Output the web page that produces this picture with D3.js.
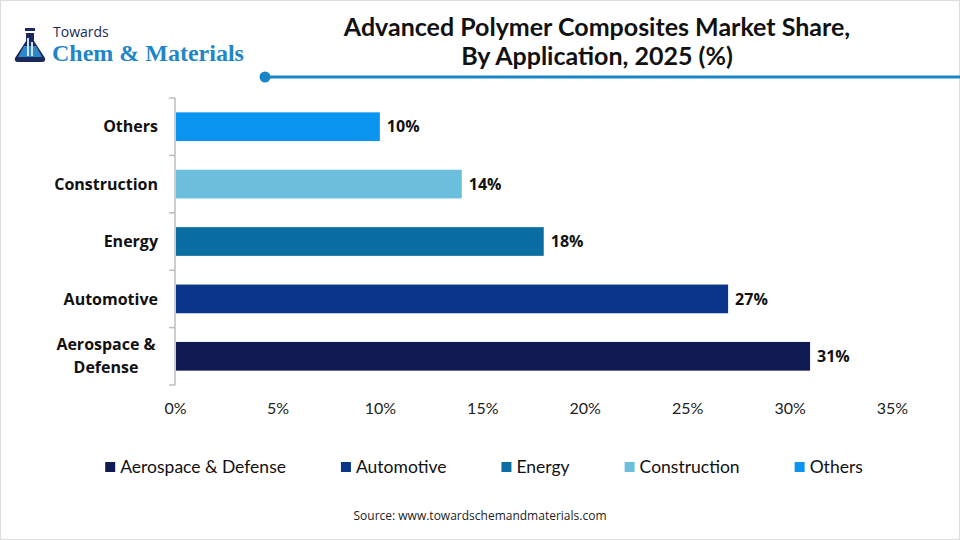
<!DOCTYPE html>
<html>
<head>
  <meta charset="utf-8">
  <title>Advanced Polymer Composites Market Share</title>
  <script src="https://cdn.jsdelivr.net/npm/d3@7"></script>
  <style>
    body { margin: 0; background: #fff; }
    svg { display: block; }
    .title { font-family: Lato, "Open Sans", sans-serif; font-weight: 700; font-size: 25px; fill: #111; }
    .cat { font-family: "Open Sans", sans-serif; font-weight: 700; font-size: 16px; fill: #111; }
    .val { font-family: "Open Sans", sans-serif; font-weight: 700; font-size: 16px; fill: #111; }
    .tick text { font-family: Lato, sans-serif; font-size: 16px; fill: #222; }
    .legend text { font-family: Lato, sans-serif; font-size: 17.5px; fill: #111; }
    .source { font-family: "Open Sans", sans-serif; font-size: 12px; fill: #222; }
  </style>
</head>
<body>
<svg></svg>
<script>
// data
var categories = ["Aerospace & Defense", "Automotive", "Energy", "Construction", "Others"];
var axisLabels = [["Aerospace &", "Defense"], ["Automotive"], ["Energy"], ["Construction"], ["Others"]];
var shares = [31, 27, 18, 14, 10];
var colors = ["#111a52", "#0a358a", "#0a6ea3", "#6bbfdc", "#0a96f0"];
var xTicks = [0, 5, 10, 15, 20, 25, 30, 35];

var W = 960, H = 540;
var margin = { top: 98, left: 175, right: 68, bottom: 155 };

var svg = d3.select("svg").attr("width", W).attr("height", H);

// light frame
svg.append("rect")
  .attr("x", 0.5).attr("y", 0.5)
  .attr("width", W - 1).attr("height", H - 1)
  .attr("fill", "#fff").attr("stroke", "#ddd");

// logo
var logo = svg.append("g").attr("transform", "translate(15,26)");
logo.append("rect").attr("x", 10).attr("y", 2).attr("width", 10).attr("height", 3).attr("fill", "#1b2a5a");
logo.append("path")
  .attr("d", "M11,7 L19,7 L19,15 L30,32 Q31,36 27,36 L3,36 Q-1,36 0,32 L11,15 Z")
  .attr("fill", "#1b2a5a");
logo.append("path")
  .attr("d", "M9,20 L21,20 L27,31 L3,31 Z")
  .attr("fill", "#2f86c8");
logo.append("rect").attr("x", 12).attr("y", 12).attr("width", 2).attr("height", 18).attr("fill", "#cde6f6");
logo.append("rect").attr("x", 16).attr("y", 16).attr("width", 2).attr("height", 14).attr("fill", "#cde6f6");
logo.append("text")
  .attr("x", 38).attr("y", 11)
  .style("font-family", "'Open Sans', sans-serif").style("font-size", "14px")
  .attr("fill", "#1b2a5a")
  .text("Towards");
logo.append("text")
  .attr("x", 37).attr("y", 35)
  .style("font-family", "'Liberation Serif', serif").style("font-weight", "700").style("font-size", "24px")
  .attr("fill", "#1f86c8")
  .text("Chem & Materials");

// title
var title = svg.append("text").attr("class", "title").attr("text-anchor", "middle");
title.append("tspan").attr("x", 597).attr("y", 36).text("Advanced Polymer Composites Market Share,");
title.append("tspan").attr("x", 597).attr("y", 65).text("By Application, 2025 (%)");

// title rule
svg.append("line")
  .attr("x1", 265).attr("x2", W).attr("y1", 77).attr("y2", 77)
  .attr("stroke", "#1a86c8").attr("stroke-width", 3);
svg.append("circle").attr("cx", 265).attr("cy", 77).attr("r", 5.5).attr("fill", "#1a86c8");

// scales
var x = d3.scaleLinear()
  .domain([0, 35])
  .range([margin.left, W - margin.right]);

var y0 = margin.top, y1 = H - margin.bottom;
var y = d3.scaleBand()
  .domain(categories)
  .range([y1, y0])
  .paddingInner(0.5)
  .paddingOuter(0.25);

// y axis line with dividers
var yAxisG = svg.append("g");
yAxisG.append("line")
  .attr("x1", margin.left).attr("x2", margin.left)
  .attr("y1", y0).attr("y2", y1)
  .attr("stroke", "#bdbdbd").attr("stroke-width", 1.5);
d3.range(categories.length + 1).forEach(function (i) {
  var yy = y0 + i * (y1 - y0) / categories.length;
  yAxisG.append("line")
    .attr("x1", margin.left - 6).attr("x2", margin.left)
    .attr("y1", yy).attr("y2", yy)
    .attr("stroke", "#bdbdbd").attr("stroke-width", 1.5);
});

// category labels
categories.forEach(function (c, i) {
  var lines = axisLabels[i];
  var cy = y(c) + y.bandwidth() / 2;
  var multi = lines.length > 1;
  var t = svg.append("text").attr("class", "cat")
    .attr("text-anchor", multi ? "middle" : "end");
  var lh = 23;
  lines.forEach(function (l, j) {
    t.append("tspan")
      .attr("x", multi ? 106 : margin.left - 17)
      .attr("y", cy + (j - (lines.length - 1) / 2) * lh)
      .attr("dy", "0.35em")
      .text(l);
  });
});

// bars
svg.append("g").selectAll("rect")
  .data(categories)
  .join("rect")
  .attr("x", x(0) + 1)
  .attr("y", function (d) { return y(d); })
  .attr("width", function (d, i) { return x(shares[i]) - x(0) - 1; })
  .attr("height", y.bandwidth())
  .attr("fill", function (d, i) { return colors[i]; });

// value labels
svg.append("g").selectAll("text")
  .data(categories)
  .join("text")
  .attr("class", "val")
  .attr("x", function (d, i) { return x(shares[i]) + 7; })
  .attr("y", function (d) { return y(d) + y.bandwidth() / 2; })
  .attr("dy", "0.36em")
  .text(function (d, i) { return shares[i] + "%"; });

// x axis (labels only)
var xAxis = d3.axisBottom(x)
  .tickValues(xTicks)
  .tickSize(0)
  .tickPadding(0)
  .tickFormat(function (d) { return d + "%"; });
var xg = svg.append("g")
  .attr("transform", "translate(0," + 402 + ")")
  .call(xAxis);
xg.select(".domain").remove();
xg.selectAll("text").attr("dy", "0.35em").attr("y", 6);

// legend
var legend = svg.append("g").attr("class", "legend");
var items = legend.selectAll("g")
  .data(categories)
  .join("g");
items.append("rect")
  .attr("width", 10).attr("height", 10)
  .attr("y", -5)
  .attr("fill", function (d, i) { return colors[i]; });
items.append("text")
  .attr("x", 15)
  .attr("dy", "0.35em")
  .text(function (d) { return d; });
var gap = 55, pos = 0, positions = [];
items.each(function () {
  positions.push(pos);
  pos += this.getBBox().width + gap;
});
var total = pos - gap;
var startX = 484 - total / 2;
items.attr("transform", function (d, i) { return "translate(" + (startX + positions[i]) + ",467)"; });

// source
svg.append("text")
  .attr("class", "source")
  .attr("x", 480).attr("y", 520)
  .attr("text-anchor", "middle")
  .text("Source: www.towardschemandmaterials.com");
</script>
</body>
</html>
